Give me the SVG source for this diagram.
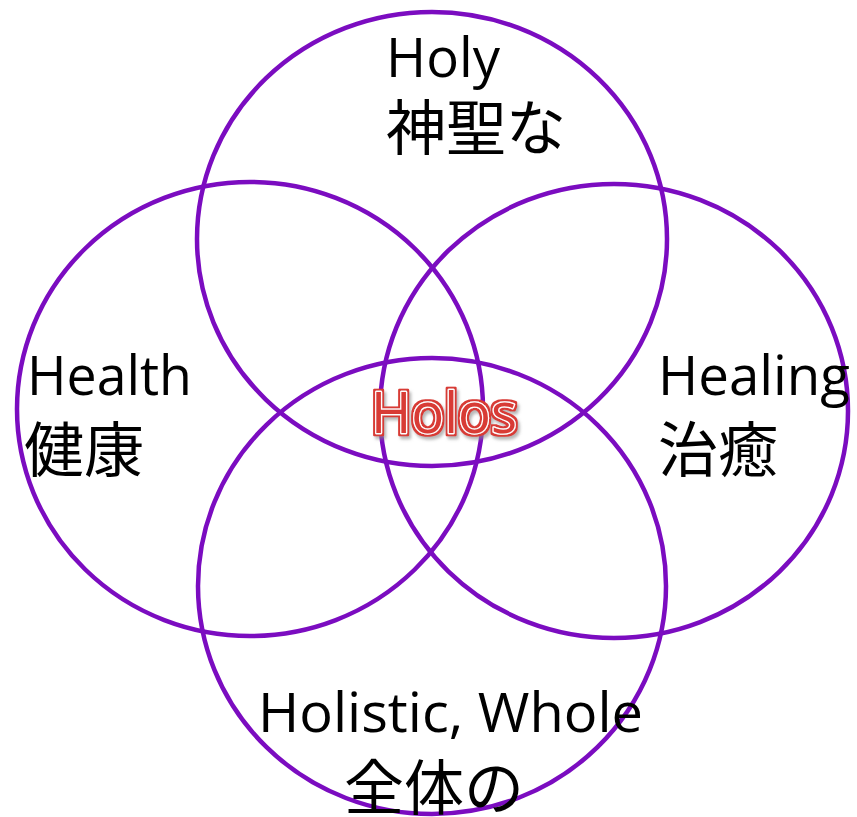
<svg xmlns="http://www.w3.org/2000/svg" width="857" height="817" viewBox="0 0 857 817">
<defs>
<filter id="wordart" x="-10%" y="-20%" width="120%" height="150%">
<feMorphology in="SourceAlpha" operator="dilate" radius="2" result="dil"/>
<feFlood flood-color="#D83A34" result="red"/>
<feComposite in="red" in2="dil" operator="in" result="outline"/>
<feGaussianBlur in="dil" stdDeviation="1.5" result="blur"/>
<feOffset in="blur" dx="2" dy="3" result="off"/>
<feFlood flood-color="#888" flood-opacity="0.6" result="grey"/>
<feComposite in="grey" in2="off" operator="in" result="shadow"/>
<feMerge>
<feMergeNode in="shadow"/>
<feMergeNode in="outline"/>
<feMergeNode in="SourceGraphic"/>
</feMerge>
</filter>
</defs>
<style>
.c{fill:none;stroke:#7B0CC0;stroke-width:4.5}
.t{fill:#000}
.lat{font-family:"Open Sans","Noto Sans",sans-serif;font-size:55px}
.cjk{font-family:"Noto Sans CJK JP",sans-serif;font-size:60px}
.hol{font-family:"Open Sans","Noto Sans",sans-serif;font-size:56px;font-weight:500;fill:#D83A34;stroke:#fff;stroke-width:2.5;stroke-linejoin:round;paint-order:stroke}
</style>
<rect width="857" height="817" fill="#fff"/>
<g id="circles">
<ellipse id="c-top" class="c" cx="432" cy="239" rx="235" ry="227"/>
<ellipse id="c-left" class="c" cx="250" cy="409" rx="233" ry="227"/>
<ellipse id="c-right" class="c" cx="614" cy="411" rx="234" ry="227"/>
<ellipse id="c-bottom" class="c" cx="432" cy="586" rx="234" ry="228"/>
</g>
<g id="n-holy">
<text class="t lat" x="386" y="77" textLength="114" lengthAdjust="spacingAndGlyphs">Holy</text>
<text class="t cjk" x="386" y="150">神聖な</text>
</g>
<g id="n-health">
<text class="t lat" x="27" y="395" textLength="165" lengthAdjust="spacingAndGlyphs">Health</text>
<text class="t cjk" x="24" y="472">健康</text>
</g>
<g id="n-healing">
<text class="t lat" x="658" y="395" textLength="192" lengthAdjust="spacingAndGlyphs">Healing</text>
<text class="t cjk" x="658" y="472">治癒</text>
</g>
<g id="n-holistic">
<text class="t lat" x="258" y="732" textLength="385" lengthAdjust="spacingAndGlyphs">Holistic, Whole</text>
<text class="t cjk" x="344" y="810">全体の</text>
</g>
<g id="n-holos">
<text class="hol" x="371" y="433" textLength="146" lengthAdjust="spacingAndGlyphs" filter="url(#wordart)">Holos</text>
</g>
</svg>
